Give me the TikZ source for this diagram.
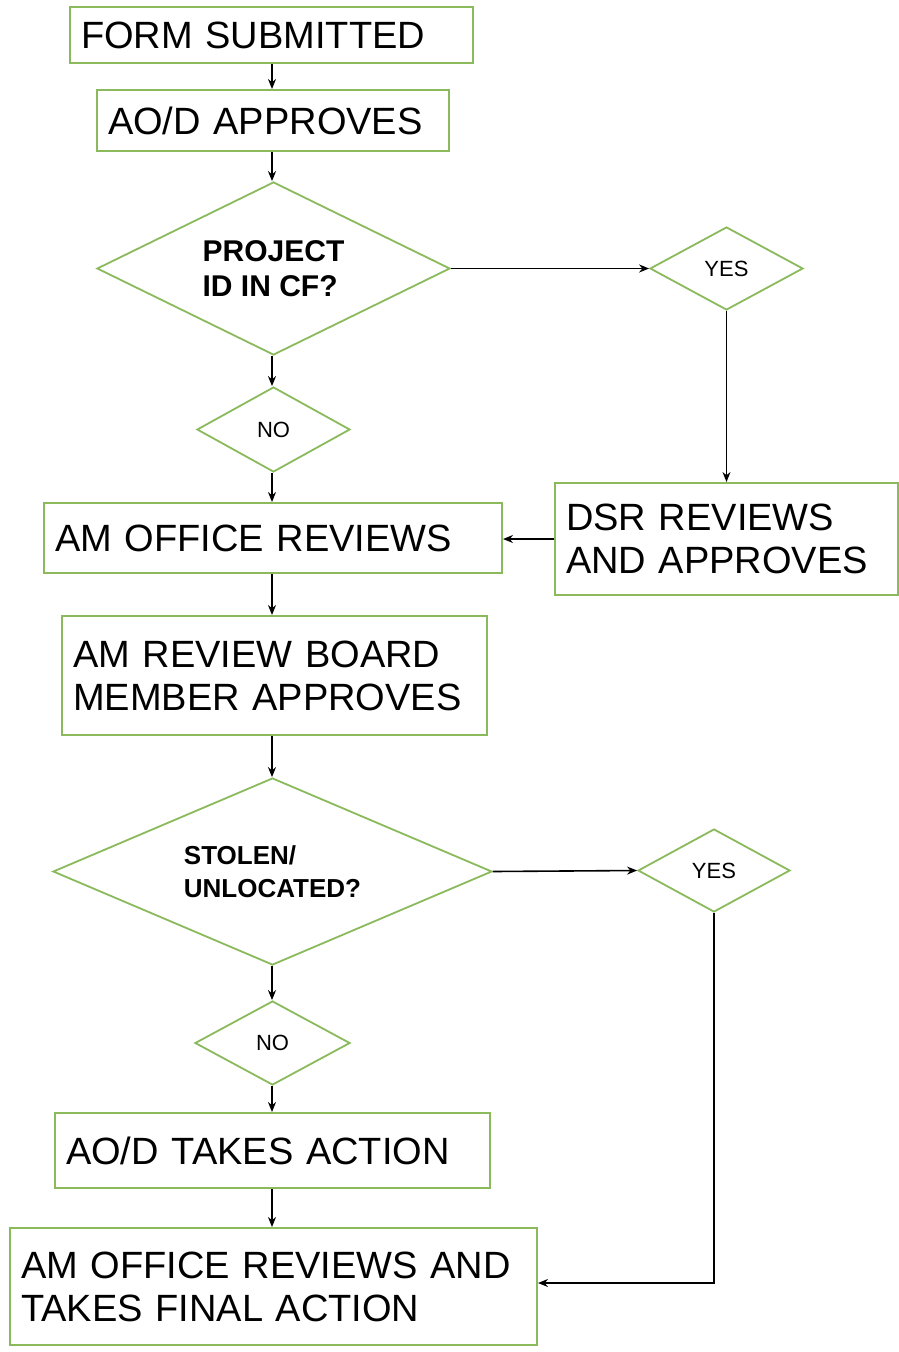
\documentclass[tikz,border=0pt]{standalone}
\usepackage{fontspec}
\setmainfont{Liberation Sans}
\usetikzlibrary{shapes.geometric,arrows.meta}
\definecolor{boxgreen}{RGB}{138,186,92}
\tikzset{
  box/.style={draw=boxgreen, line width=2pt, rectangle, inner xsep=11pt, inner ysep=0pt,
    align=left, font=\fontsize{38}{43}\selectfont},
  dia/.style={draw=boxgreen, line width=1.8pt, diamond, aspect=2, inner sep=0pt, align=left},
  qtext/.style={font=\bfseries\fontsize{30}{35}\selectfont},
  small/.style={font=\fontsize{22}{24}\selectfont},
  arr/.style={draw=black, line width=1.6pt, -{Stealth[length=10pt,width=8pt]}},
  plain/.style={draw=black, line width=1.6pt}
}
\begin{document}
\begin{tikzpicture}[x=1pt,y=-1pt]
\useasboundingbox (0,0) rectangle (899,1352);
\fill[white] (0,0) rectangle (899,1352);

\node[box, minimum width=403pt, minimum height=56pt, text width=381pt] (b1) at (271.5,35) {\mbox{FORM SUBMITTED}};
\node[box, minimum width=352pt, minimum height=61pt, text width=330pt] (b2) at (273,120.5) {\mbox{AO/D APPROVES}};
\node[dia, qtext, minimum width=353pt, minimum height=173pt] (d1) at (273.5,268.5) {PROJECT\\ID IN CF?};
\node[dia, small, minimum width=153pt, minimum height=83pt] (y1) at (726.5,268.5) {YES};
\node[dia, small, minimum width=153pt, minimum height=85pt] (n1) at (273.5,429.5) {NO};
\node[box, minimum width=458pt, minimum height=70pt, text width=436pt] (amo) at (273,538) {\mbox{AM OFFICE REVIEWS}};
\node[box, minimum width=343pt, minimum height=112pt, text width=321pt] (dsr) at (726.5,539) {\mbox{DSR REVIEWS}\\\mbox{AND APPROVES}};
\node[box, minimum width=425pt, minimum height=119pt, text width=403pt] (rev) at (274.5,675.5) {\mbox{AM REVIEW BOARD}\\\mbox{MEMBER APPROVES}};
\node[dia, font=\bfseries\fontsize{26}{33}\selectfont, minimum width=439pt, minimum height=187pt] (d2) at (272.5,871.5) {STOLEN/\\UNLOCATED?};
\node[dia, small, minimum width=152pt, minimum height=83pt] (y2) at (714,870.5) {YES};
\node[dia, small, minimum width=155pt, minimum height=84pt] (n2) at (272.5,1043) {NO};
\node[box, minimum width=435pt, minimum height=75pt, text width=413pt] (aod) at (272.5,1150.5) {\mbox{AO/D TAKES ACTION}};
\node[box, minimum width=527pt, minimum height=117pt, text width=505pt] (fin) at (273.5,1286.5) {\mbox{AM OFFICE REVIEWS AND}\\\mbox{TAKES FINAL ACTION}};

\draw[arr] (b1.south -| 272,0) -- (b2.north -| 272,0);
\draw[arr] (b2.south -| 272,0) -- (d1.north -| 272,0);
\draw[arr] (d1.east) -- (y1.west);
\draw[arr] (y1.south) -- (dsr.north -| y1.south);
\draw[arr] (d1.south -| 272,0) -- (n1.north -| 272,0);
\draw[arr] (n1.south -| 272,0) -- (amo.north -| 272,0);
\draw[arr] (dsr.west) -- (amo.east |- dsr.west);
\draw[arr] (amo.south -| 272,0) -- (rev.north -| 272,0);
\draw[arr] (rev.south -| 272,0) -- (d2.north -| 272,0);
\draw[arr] (d2.east) -- (y2.west);
\draw[arr] (d2.south -| 272,0) -- (n2.north -| 272,0);
\draw[arr] (n2.south -| 272,0) -- (aod.north -| 272,0);
\draw[arr] (aod.south -| 272,0) -- (fin.north -| 272,0);
\coordinate (c1) at (716,1283);
\draw[arr] (y2.south) -- (y2.south |- c1) -- (fin.east |- c1);
\end{tikzpicture}
\end{document}
